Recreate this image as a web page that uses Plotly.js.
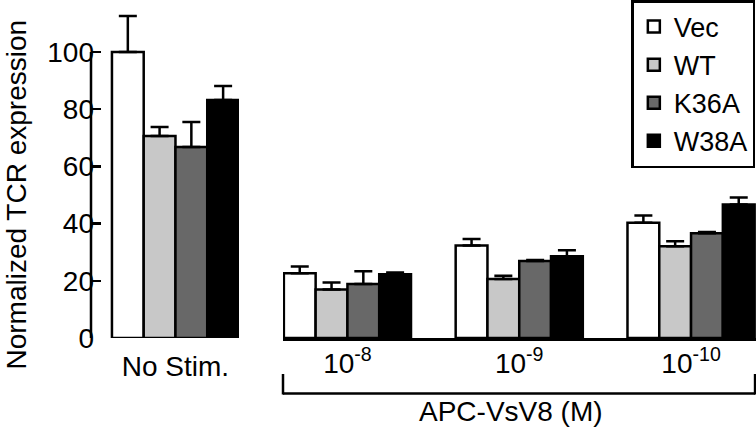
<!DOCTYPE html>
<html>
<head>
<meta charset="utf-8">
<script src="https://cdn.plot.ly/plotly-3.0.1.min.js"></script>
<style>html,body{margin:0;padding:0;background:#fff;}#chart{width:756px;height:437px;}</style>
</head>
<body>
<div id="chart"></div>
<script>
// ---- data ----
const categories = ["No Stim.", "10<sup>-8</sup>", "10<sup>-9</sup>", "10<sup>-10</sup>"];
const seriesNames = ["Vec", "WT", "K36A", "W38A"];
const vecValues  = [100.0, 22.6, 32.3, 40.3];
const vecErr     = [12.6, 2.4, 2.3, 2.5];
const wtValues   = [70.6, 17.0, 20.6, 32.1];
const wtErr      = [3.2, 2.4, 1.2, 1.7];
const k36aValues = [66.8, 18.9, 26.9, 36.6];
const k36aErr    = [8.7, 4.4, 0.4, 0.5];
const w38aValues = [83.2, 22.3, 28.6, 46.7];
const w38aErr    = [4.9, 0.6, 2.1, 2.4];
const yTicks = [0, 20, 40, 60, 80, 100];
const groupLabel = "APC-VsV8 (M)";
const yTitle = "Normalized TCR expression";

// ---- styles ----
const colors = ["#ffffff", "#c8c8c8", "#686868", "#000000"];
const FONT = "Liberation Sans, Arial, Helvetica, sans-serif";
const FS = 28;

const allValues = [vecValues, wtValues, k36aValues, w38aValues];
const allErr = [vecErr, wtErr, k36aErr, w38aErr];

const traces = [];
seriesNames.forEach((name, i) => {
  const common = {
    type: "bar",
    name: name,
    marker: {color: colors[i], line: {color: "#000", width: 2.5}},
    hoverinfo: "skip"
  };
  traces.push(Object.assign({}, common, {
    x: categories.slice(0, 1),
    y: allValues[i].slice(0, 1),
    error_y: {type: "data", symmetric: false, array: allErr[i].slice(0, 1), arrayminus: [0],
              color: "#000", thickness: 2.5, width: 9},
    xaxis: "x", yaxis: "y", showlegend: true
  }));
  traces.push(Object.assign({}, common, {
    x: categories.slice(1),
    y: allValues[i].slice(1),
    error_y: {type: "data", symmetric: false, array: allErr[i].slice(1), arrayminus: allErr[i].slice(1).map(() => 0),
              color: "#000", thickness: 2.5, width: 9},
    xaxis: "x2", yaxis: "y", showlegend: false
  }));
});

const W = 756, H = 437, L = 91, R = 0, T = 10, BASE = 338;
const B = H - BASE;
const plotW = W - L - R, plotH = BASE - T;
const pxPerUnit = 2.86;
const yTop = plotH / pxPerUnit;
const py = (pix) => (BASE - pix) / plotH;   // pixel row -> paper y
const px = (pix) => (pix - L) / plotW;      // pixel column -> paper x

const layout = {
  width: W, height: H,
  margin: {l: L, r: R, t: T, b: B, pad: 0},
  paper_bgcolor: "#fff", plot_bgcolor: "rgba(0,0,0,0)",
  font: {family: FONT, size: FS, color: "#000"},
  barmode: "group", bargap: 0.26, bargroupgap: 0,
  showlegend: true,
  legend: {
    x: 0.999, xanchor: "right", y: py(0), yanchor: "top",
    bordercolor: "#000", borderwidth: 2.5, bgcolor: "#fff",
    font: {family: FONT, size: 27, color: "#000"},
    tracegroupgap: 0
  },
  xaxis: {
    domain: [0, px(239)],
    range: [-0.492, 0.37],
    type: "category",
    showline: false, showgrid: false, zeroline: false,
    ticks: "", tickfont: {family: FONT, size: FS},
    ticklabelstandoff: 9,
    fixedrange: true
  },
  xaxis2: {
    domain: [px(283), 1],
    range: [-0.375, 2.378],
    type: "category",
    anchor: "y",
    showline: true, linecolor: "#000", linewidth: 2.5,
    showgrid: false, zeroline: false,
    ticks: "", tickfont: {family: FONT, size: FS},
    ticklabelstandoff: -1,
    fixedrange: true
  },
  yaxis: {
    domain: [0, 1],
    range: [0, yTop],
    tickvals: yTicks,
    ticks: "inside", ticklen: 10, tickwidth: 2.5, tickcolor: "#000",
    showline: false,
    showgrid: false, zeroline: false,
    tickfont: {family: FONT, size: FS},
    ticklabelstandoff: -4,
    fixedrange: true
  },
  shapes: [
    // y axis line spanning 0..100
    {type: "line", xref: "paper", yref: "y", x0: 0, x1: 0, y0: yTicks[0], y1: yTicks[yTicks.length - 1], line: {color: "#000", width: 2.5}},
    // bracket under the dose groups
    {type: "line", xref: "x2 domain", yref: "paper", x0: 0, x1: 0, y0: py(374), y1: py(394.5), line: {color: "#000", width: 2.5}},
    {type: "line", xref: "x2 domain", yref: "paper", x0: 0, x1: 0.998, y0: py(393.5), y1: py(393.5), line: {color: "#000", width: 2.5}},
    {type: "line", xref: "x2 domain", yref: "paper", x0: 0.998, x1: 0.998, y0: py(374), y1: py(394.5), line: {color: "#000", width: 2.5}}
  ],
  annotations: [
    {text: groupLabel, xref: "paper", yref: "paper", x: px(511), y: py(411),
     xanchor: "center", yanchor: "middle", showarrow: false, font: {family: FONT, size: FS, color: "#000"}},
    {text: yTitle, xref: "paper", yref: "paper", x: px(0), y: py(195), textangle: -90,
     xanchor: "left", yanchor: "middle", borderpad: 0, showarrow: false, font: {family: FONT, size: FS, color: "#000"}}
  ]
};

Plotly.newPlot("chart", traces, layout, {displayModeBar: false, staticPlot: true});
</script>
</body>
</html>
